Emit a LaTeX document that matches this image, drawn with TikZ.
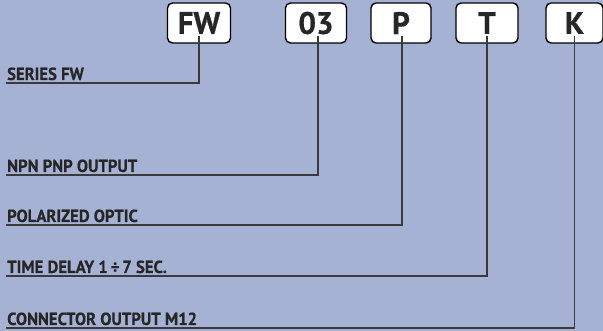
\documentclass[tikz,border=0pt]{standalone}
\usepackage{fontspec}
\setmainfont{PT Sans}
\newfontfamily\labfont[FakeStretch=0.95,FakeBold=0.5]{PT Sans Bold}
\newfontfamily\boxfont[FakeBold=0.6]{PT Sans Bold}
\definecolor{bg}{HTML}{A5B2D4}
\definecolor{ln}{HTML}{3A3A3A}
\definecolor{tx}{HTML}{262626}
\begin{document}
\begin{tikzpicture}[x=1pt,y=-1pt,
  codebox/.style={draw=black,line width=1.4pt,fill=white,rounded corners=5pt,
    minimum height=40pt,inner sep=0pt,font=\boxfont\fontsize{31}{31}\selectfont,text=tx},
  lab/.style={anchor=base west,inner sep=0pt,font=\labfont\fontsize{17.5}{17.5}\selectfont,text=tx},
  leader/.style={draw=ln,line width=1.2pt}]
\fill[bg] (0,0) rectangle (603,331);
\useasboundingbox (0,0) rectangle (603,331);
\node[codebox,minimum width=63pt] (fw) at (199,23) {FW};
\node[codebox,minimum width=61pt] (o3) at (316,23) {03};
\node[codebox,minimum width=60pt] (p) at (401,23) {P};
\node[codebox,minimum width=62pt] (t) at (487,23) {T};
\node[codebox,minimum width=57pt] (k) at (574.5,23) {K};
\node[lab] (l1) at (7,80) {SERIES FW};
\node[lab] (l2) at (7,172) {NPN PNP OUTPUT};
\node[lab] (l3) at (7,222) {POLARIZED OPTIC};
\node[lab] (l4) at (7,273) {TIME DELAY 1\,÷\,7 SEC.};
\node[lab] (l5) at (7,325) {CONNECTOR OUTPUT M12};
\coordinate (e1) at (6,83);
\coordinate (e2) at (6,175);
\coordinate (e3) at (6,225);
\coordinate (e4) at (6,276);
\coordinate (e5) at (6,328);
\draw[leader] ([yshift=8pt]fw.south) |- (e1);
\draw[leader] ([xshift=2pt,yshift=8pt]o3.south) |- (e2);
\draw[leader] ([xshift=1pt,yshift=8pt]p.south) |- (e3);
\draw[leader] ([yshift=8pt]t.south) |- (e4);
\draw[leader] ([yshift=8pt]k.south) |- (e5);
\end{tikzpicture}
\end{document}
